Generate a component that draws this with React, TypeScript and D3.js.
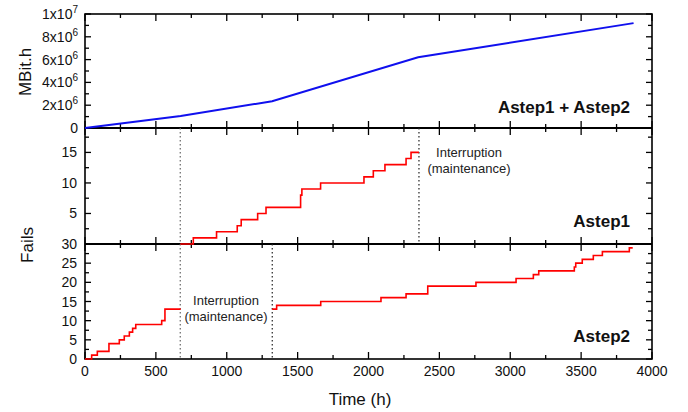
import { useEffect, useRef } from "react";
import * as d3 from "d3";

const width = 688;
const height = 412;
const left = 85;
const right = 652;

// Astep1 + Astep2 cumulative bandwidth (MBit.h)
const totalTime = [0, 675, 1320, 2350, 3870];
const totalValue = [0, 1.05e6, 2.35e6, 6.2e6, 9.2e6];

// Astep1 fails (step curve)
const astep1Time = [672, 764, 928, 1074, 1102, 1218, 1277, 1521, 1530, 1662, 1968, 2034, 2116, 2265, 2300, 2356];
const astep1Fails = [0, 1, 2, 3, 4, 5, 6, 8, 9, 10, 11, 12, 13, 14, 15, 15];

// Astep2 fails, before and after the interruption
const astep2TimeA = [0, 47, 87, 169, 242, 277, 313, 336, 358, 541, 564, 675];
const astep2FailsA = [0, 1, 2, 4, 5, 6, 7, 8, 9, 10, 13, 13];
const astep2TimeB = [1321, 1352, 1663, 2088, 2265, 2418, 2758, 3041, 3163, 3201, 3452, 3462, 3508, 3586, 3650, 3840, 3864];
const astep2FailsB = [13, 14, 15, 16, 17, 19, 20, 21, 22, 23, 24, 25, 26, 27, 28, 29, 29];

const xTicks = [0, 500, 1000, 1500, 2000, 2500, 3000, 3500, 4000];
const topTicks = [0, 2e6, 4e6, 6e6, 8e6, 1e7];
// the middle panel's "0" sits under the lower panel's "30"
const midTicks = [5, 10, 15];
const botTicks = [0, 5, 10, 15, 20, 25, 30];

const font = "'Liberation Sans', Arial, sans-serif";

function App() {
  const d3Node = useRef(null);

  useEffect(() => {
    const root = d3.select(d3Node.current);
    root.selectAll("*").remove();
    const svg = root
      .append("svg")
      .attr("width", width)
      .attr("height", height)
      .style("position", "absolute")
      .style("left", 0)
      .style("top", 0)
      .style("font-family", font);

    const x = d3.scaleLinear().domain([0, 4000]).range([left, right]);
    const yTop = d3.scaleLinear().domain([0, 1e7]).range([128, 14]);
    const yMid = d3.scaleLinear().domain([0, 19]).range([244, 128]);
    const yBot = d3.scaleLinear().domain([0, 30]).range([359, 244]);

    const panels = [
      { y: yTop, step: 1e6, major: 2e6 },
      { y: yMid, step: 2.5, major: 5 },
      { y: yBot, step: 2.5, major: 5 },
    ];

    // ticks on all four sides, pointing inward
    panels.forEach((p) => {
      const [y0, y1] = p.y.range();
      const g = svg.append("g").attr("stroke", "#000").attr("stroke-width", 1.3);
      d3.range(0, 4001, 250).forEach((t) => {
        const len = t % 500 === 0 ? 7 : 4;
        g.append("line").attr("x1", x(t)).attr("x2", x(t)).attr("y1", y0).attr("y2", y0 - len);
        g.append("line").attr("x1", x(t)).attr("x2", x(t)).attr("y1", y1).attr("y2", y1 + len);
      });
      const [d0, d1] = p.y.domain();
      for (let v = d0; v <= d1 + 1e-9; v += p.step) {
        const len = Math.abs(v % p.major) < 1e-9 ? 6 : 4;
        g.append("line").attr("x1", left).attr("x2", left + len).attr("y1", p.y(v)).attr("y2", p.y(v));
        g.append("line").attr("x1", right).attr("x2", right - len).attr("y1", p.y(v)).attr("y2", p.y(v));
      }
    });

    // frame
    svg.append("rect")
      .attr("x", left).attr("y", 14)
      .attr("width", right - left).attr("height", 359 - 14)
      .attr("fill", "none").attr("stroke", "#000").attr("stroke-width", 1.6);
    [128, 244].forEach((yy) => {
      svg.append("line")
        .attr("x1", left).attr("x2", right).attr("y1", yy).attr("y2", yy)
        .attr("stroke", "#000").attr("stroke-width", 2);
    });

    // interruption markers
    const dotted = [
      { t: 672, y1: 128, y2: 359, c: "#666" },
      { t: 2356, y1: 128, y2: 244, c: "#222" },
      { t: 1321, y1: 244, y2: 359, c: "#222" },
    ];
    dotted.forEach((d) => {
      svg.append("line")
        .attr("x1", x(d.t)).attr("x2", x(d.t)).attr("y1", d.y1).attr("y2", d.y2)
        .attr("stroke", d.c).attr("stroke-width", 1.2).attr("stroke-dasharray", "1.5,2.5");
    });

    // blue total line
    const totalLine = d3.line().x((d) => x(d[0])).y((d) => yTop(d[1]));
    svg.append("path")
      .datum(d3.zip(totalTime, totalValue))
      .attr("fill", "none").attr("stroke", "#1010ee").attr("stroke-width", 2)
      .attr("d", totalLine);

    // red step lines
    const stepLine = (y) => d3.line().curve(d3.curveStepAfter).x((d) => x(d[0])).y((d) => y(d[1]));
    [
      { y: yMid, data: d3.zip(astep1Time, astep1Fails) },
      { y: yBot, data: d3.zip(astep2TimeA, astep2FailsA) },
      { y: yBot, data: d3.zip(astep2TimeB, astep2FailsB) },
    ].forEach((s) => {
      svg.append("path")
        .datum(s.data)
        .attr("fill", "none").attr("stroke", "#ff0000").attr("stroke-width", 1.6)
        .attr("d", stepLine(s.y));
    });

    // y tick labels
    topTicks.forEach((v) => {
      const txt = svg.append("text")
        .attr("x", 78).attr("y", yTop(v) + 5)
        .attr("text-anchor", "end").attr("font-size", 14).attr("fill", "#111");
      if (v === 0) {
        txt.text("0");
      } else {
        const exp = Math.floor(Math.log10(v));
        const mant = Math.round(v / Math.pow(10, exp));
        txt.append("tspan").text(mant + "x10");
        txt.append("tspan").attr("dy", -6).attr("font-size", 10).text(exp);
      }
    });
    [
      { y: yMid, ticks: midTicks },
      { y: yBot, ticks: botTicks },
    ].forEach((p) => {
      p.ticks.forEach((v) => {
        svg.append("text")
          .attr("x", 77).attr("y", p.y(v) + 5)
          .attr("text-anchor", "end").attr("font-size", 14).attr("fill", "#111")
          .text(v);
      });
    });

    // x tick labels
    xTicks.forEach((t) => {
      svg.append("text")
        .attr("x", x(t)).attr("y", 376)
        .attr("text-anchor", "middle").attr("font-size", 14).attr("fill", "#111")
        .text(t);
    });

    // axis titles
    svg.append("text")
      .attr("transform", "translate(31,72) rotate(-90)")
      .attr("text-anchor", "middle").attr("font-size", 17).attr("fill", "#111")
      .text("MBit.h");
    svg.append("text")
      .attr("transform", "translate(33,245) rotate(-90)")
      .attr("text-anchor", "middle").attr("font-size", 17).attr("fill", "#111")
      .text("Fails");
    svg.append("text")
      .attr("x", 360).attr("y", 405)
      .attr("text-anchor", "middle").attr("font-size", 17).attr("fill", "#111")
      .text("Time (h)");

    // panel names
    [
      { label: "Astep1 + Astep2", y: 113 },
      { label: "Astep1", y: 227 },
      { label: "Astep2", y: 342 },
    ].forEach((d) => {
      svg.append("text")
        .attr("x", 630).attr("y", d.y)
        .attr("text-anchor", "end").attr("font-size", 17).attr("font-weight", "bold")
        .attr("fill", "#111")
        .text(d.label);
    });

    // interruption notes
    [
      { cx: 469, y: 157 },
      { cx: 226, y: 305 },
    ].forEach((d) => {
      svg.append("text")
        .attr("x", d.cx).attr("y", d.y)
        .attr("text-anchor", "middle").attr("font-size", 13).attr("fill", "#222")
        .text("Interruption");
      svg.append("text")
        .attr("x", d.cx).attr("y", d.y + 16)
        .attr("text-anchor", "middle").attr("font-size", 13).attr("fill", "#222")
        .text("(maintenance)");
    });
  }, []);

  return <div ref={d3Node} />;
}

export default App;
